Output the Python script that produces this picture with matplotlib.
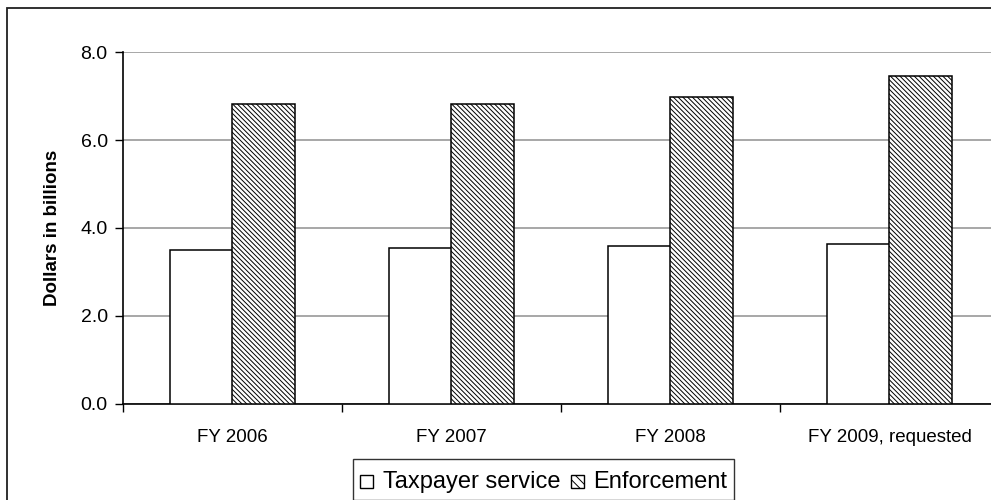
import matplotlib
matplotlib.use("Agg")
import matplotlib.pyplot as plt
import matplotlib.patches as mpatches
from matplotlib.legend_handler import HandlerPatch
import numpy as np

categories = ["FY 2006", "FY 2007", "FY 2008", "FY 2009, requested"]
taxpayer_service = [3.50, 3.54, 3.58, 3.64]
enforcement = [6.81, 6.82, 6.98, 7.46]
series_names = ["Taxpayer service", "Enforcement"]
y_ticks = [0.0, 2.0, 4.0, 6.0, 8.0]

plt.rcParams['font.family'] = ['Liberation Sans', 'DejaVu Sans']
plt.rcParams['hatch.linewidth'] = 0.7

W, H = 991, 500
fig = plt.figure(figsize=(W / 100, H / 100), dpi=100)
fig.patch.set_facecolor('white')

# axes: left 123px, bottom y=404, top y=52, category width 219px (extends past right edge)
ax = fig.add_axes([123 / W, (H - 404) / H, 876 / W, 352 / H])

HATCH = '\\' * 7
x = np.arange(len(categories))
bw = 0.285
off = 0.142
ax.bar(x - off, taxpayer_service, bw, color='white', edgecolor='black', linewidth=1.1, zorder=3,
       label=series_names[0])
ax.bar(x + off, enforcement, bw, color='white', edgecolor='black', linewidth=1.1, zorder=3,
       hatch=HATCH, label=series_names[1])

ax.set_xlim(-0.5, len(categories) - 0.5)
ax.set_ylim(0, 8)
ax.set_yticks(y_ticks)
ax.set_yticklabels([f"{v:.1f}" for v in y_ticks], fontsize=14)
ax.yaxis.grid(True, color='#a0a0a0', linewidth=1.3, zorder=0)
ax.set_axisbelow(True)

# category boundaries as major ticks, labels at centers
ax.set_xticks(np.arange(-0.5, len(categories) + 0.5, 1.0))
ax.set_xticklabels([])
ax.set_xticks(x, minor=True)
ax.set_xticklabels(categories, minor=True, fontsize=13.5)
ax.tick_params(axis='x', which='major', length=6, width=1, direction='out', color='black')
ax.tick_params(axis='x', which='minor', length=0, pad=18)
ax.tick_params(axis='y', length=6, width=1, direction='out', pad=5)

for s in ['top', 'right']:
    ax.spines[s].set_visible(False)
ax.spines['left'].set_linewidth(1.2)
ax.spines['bottom'].set_linewidth(1.2)

ax.set_ylabel("Dollars in billions", fontsize=13.5, fontweight='bold', labelpad=14)


class SquareHandler(HandlerPatch):
    def create_artists(self, legend, orig_handle, xdescent, ydescent, width, height, fontsize, trans):
        side = width
        p = mpatches.Rectangle((-xdescent, -ydescent + (height - side) / 2 - 1), side, side,
                               facecolor=orig_handle.get_facecolor(), edgecolor='black',
                               linewidth=1.0, hatch=orig_handle.get_hatch())
        p.set_transform(trans)
        return [p]


handles = [mpatches.Patch(facecolor='white', edgecolor='black'),
           mpatches.Patch(facecolor='white', edgecolor='black', hatch='\\' * 4)]
leg = fig.legend(handles, series_names, loc='upper left', bbox_to_anchor=(353 / W, 1 - 459 / H),
                 ncol=2, fontsize=17, frameon=True, fancybox=False, borderaxespad=0,
                 handlelength=0.55, handleheight=1.4, handletextpad=0.4, columnspacing=0.45,
                 borderpad=0.3, handler_map={mpatches.Patch: SquareHandler()})
leg.get_frame().set_edgecolor('black')
leg.get_frame().set_linewidth(1.0)

# outer figure border
fig.patches.append(mpatches.Rectangle((7 / W, -0.1), 1.2, (H - 8) / H + 0.1, transform=fig.transFigure,
                                      fill=False, edgecolor='#202020', linewidth=1.3, clip_on=False))

fig.savefig("out.png", dpi=100)
